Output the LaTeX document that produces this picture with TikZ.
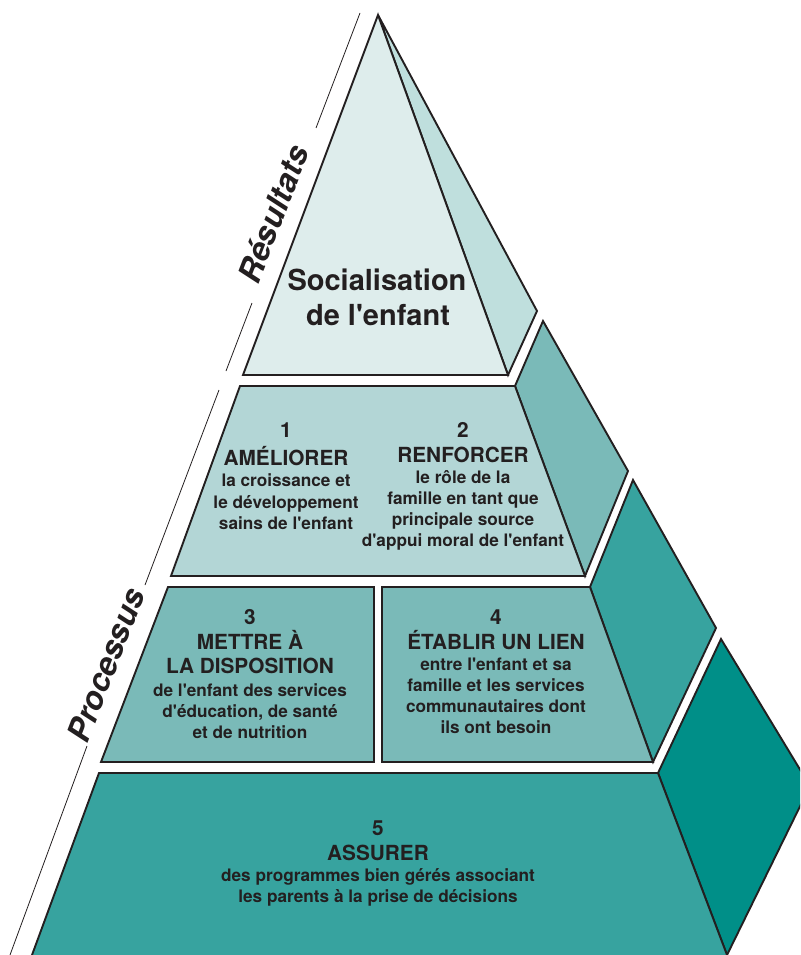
\documentclass[tikz,border=0pt]{standalone}
\usepackage{fontspec}
\setmainfont{TeX Gyre Heros}[Ligatures=TeXOff]
\definecolor{cA}{HTML}{DEEDEC}
\definecolor{cB}{HTML}{BFDFDD}
\definecolor{cC}{HTML}{B3D6D6}
\definecolor{cD}{HTML}{7ABAB8}
\definecolor{cE}{HTML}{37A39F}
\definecolor{cF}{HTML}{008F88}
\definecolor{ink}{HTML}{231F20}
\begin{document}
\begin{tikzpicture}[x=1pt,y=-1pt,
  face/.style={draw=ink, line width=1.9pt, line join=miter},
  guide/.style={draw=ink, line width=0.8pt},
  lbl/.style={text=ink, inner sep=0pt, font=\fontsize{32}{36}\selectfont\bfseries\itshape, rotate=69},
  bigt/.style={text=ink, inner sep=0pt, anchor=base, font=\fontsize{29}{33}\selectfont\bfseries},
  ttl/.style={text=ink, inner sep=0pt, anchor=base, font=\fontsize{20.8}{24}\selectfont\bfseries},
  sml/.style={text=ink, inner sep=0pt, anchor=base, font=\fontsize{17.2}{21}\selectfont\bfseries}]
\useasboundingbox (0,0) rectangle (800,955);
\clip (0,0) rectangle (800,955);
% top tier
\draw[face, fill=cB] (378,15) -- (537,311) -- (508,375) -- cycle;
\draw[face, fill=cA] (378,15) -- (508,375) -- (243,375) -- cycle;
% tier 2
\draw[face, fill=cD] (515,386) -- (543,321) -- (628,471) -- (585,576) -- cycle;
\draw[face, fill=cC] (240,386) -- (515,386) -- (585,576) -- (171,576) -- cycle;
% tier 3
\draw[face, fill=cE] (590,587) -- (633,480) -- (716,628) -- (653,762) -- cycle;
\draw[face, fill=cD] (168,587) -- (374,587) -- (374,762) -- (101,762) -- cycle;
\draw[face, fill=cD] (382,587) -- (590,587) -- (653,762) -- (382,762) -- cycle;
% tier 4
\draw[face, fill=cF] (658,773) -- (721,639) -- (810,786) -- (727,955) -- cycle;
\draw[face, fill=cE] (99,773) -- (658,773) -- (736.5,980) -- (22.8,980) -- cycle;
% guide lines
\draw[guide] (360,13) -- (316,128);
\draw[guide] (252,303) -- (226,371);
\draw[guide] (219,390) -- (145,585);
\draw[guide] (87,746) -- (10,955);
\node[lbl] (res) at (273,214) {Résultats};
\node[lbl] (proc) at (106,665) {Processus};
% texts
\node[bigt] (s1) at (377,290) {Socialisation};
\node[bigt] (s2) at (378,325) {de l'enfant};
\node[ttl] (n1) at (286,437) {1};
\node[ttl] (t1) at (286,465) {AMÉLIORER};
\node[sml] (a1) at (286,486.5) {la croissance et};
\node[sml] (a2) at (286,508) {le développement};
\node[sml] (a3) at (286,529.5) {sains de l'enfant};
\node[ttl] (n2) at (463,437) {2};
\node[ttl] (t2) at (463,462) {RENFORCER};
\node[sml] (b1) at (463,483) {le rôle de la};
\node[sml] (b2) at (463,504) {famille en tant que};
\node[sml] (b3) at (463,525) {principale source};
\node[sml] (b4) at (463,546.5) {d'appui moral de l'enfant};
\node[ttl] (n3) at (250,624) {3};
\node[ttl] (t3) at (250,649) {METTRE À};
\node[ttl] (t3b) at (250,673.5) {LA DISPOSITION};
\node[sml] (c1) at (250,696) {de l'enfant des services};
\node[sml] (c2) at (250,717.3) {d'éducation, de santé};
\node[sml] (c3) at (250,738.3) {et de nutrition};
\node[ttl] (n4) at (496,624) {4};
\node[ttl] (t4) at (496,649) {ÉTABLIR UN LIEN};
\node[sml] (d1) at (496,670) {entre l'enfant et sa};
\node[sml] (d2) at (496,691) {famille et les services};
\node[sml] (d3) at (496,712.3) {communautaires dont};
\node[sml] (d4) at (496,733.3) {ils ont besoin};
\node[ttl] (n5) at (378,835) {5};
\node[ttl] (t5) at (378,860.5) {ASSURER};
\node[sml] (e1) at (378,881.7) {des programmes bien gérés associant};
\node[sml] (e2) at (378,902.7) {les parents à la prise de décisions};
\end{tikzpicture}
\end{document}
